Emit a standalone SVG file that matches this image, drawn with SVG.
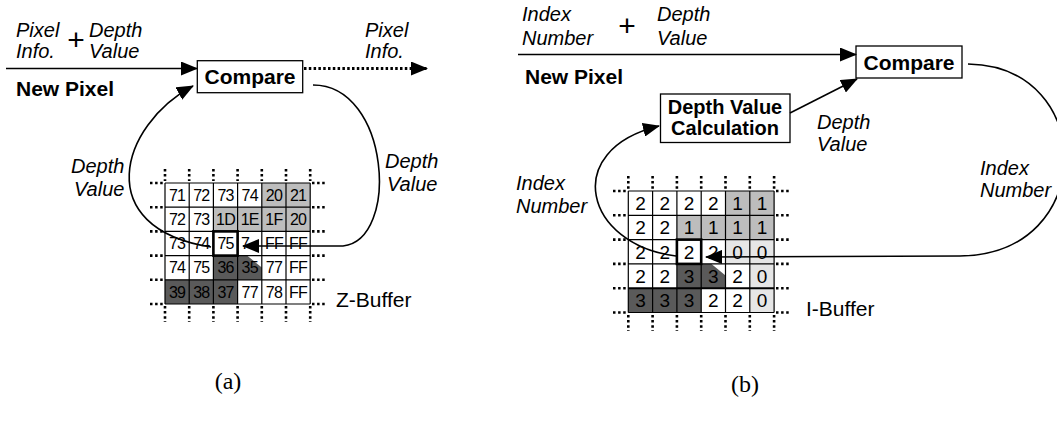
<svg xmlns="http://www.w3.org/2000/svg" width="1057" height="422" viewBox="0 0 1057 422">
<defs>
<marker id="ah" viewBox="0 0 17 14" refX="16" refY="7" markerWidth="17" markerHeight="14" markerUnits="userSpaceOnUse" orient="auto"><path d="M0,0 L17,7 L0,14 z" fill="#000"/></marker>
<style>
text{font-family:"Liberation Sans",Arial,sans-serif;fill:#000}
.it{font-style:italic;font-size:20px}
.bd{font-weight:bold;font-size:21px}
.bd2{font-weight:bold;font-size:20px}
.lb{font-size:21px}
.cap{font-family:"Liberation Serif","Times New Roman",serif;font-size:24px}
.plus{font-size:30px}
.box{fill:#fff;stroke:#000;stroke-width:1.3}
.ln{fill:none;stroke:#000;stroke-width:1.6}
.dl{fill:none;stroke:#000;stroke-width:3;stroke-dasharray:2.5 2.3}
.grid{fill:none;stroke:#000;stroke-width:1.2}
.dot{fill:none;stroke:#000;stroke-width:2.6;stroke-dasharray:2.5 2.6}
.ca{font-size:16px;text-anchor:middle;letter-spacing:-0.8px}
.cb{font-size:19px;text-anchor:middle}
.lt{fill:#bdbdbd}
.vl{fill:#e6e6e6}
.dk{fill:#5a5a5a}
.bold{fill:none;stroke:#000;stroke-width:2.6}
</style>
</defs>
<rect width="1057" height="422" fill="#fff"/>

<!-- ===== Panel (a) ===== -->
<g id="a-labels">
<text class="it" x="16" y="37">Pixel</text>
<text class="it" x="16" y="58">Info.</text>
<text class="plus" x="76" y="50" text-anchor="middle">+</text>
<text class="it" x="89" y="37">Depth</text>
<text class="it" x="89" y="58">Value</text>
<text class="bd" x="16" y="96">New Pixel</text>
<text class="it" x="365" y="37">Pixel</text>
<text class="it" x="365" y="58">Info.</text>
<text class="it" x="71" y="173">Depth</text>
<text class="it" x="74" y="196">Value</text>
<text class="it" x="385" y="168">Depth</text>
<text class="it" x="387" y="191">Value</text>
<text class="lb" x="336" y="307">Z-Buffer</text>
<text class="cap" x="228" y="389" text-anchor="middle">(a)</text>
</g>

<g id="a-compare">
<rect class="box" x="197.3" y="60.7" width="105.4" height="32"/>
<text class="bd" x="250" y="84" text-anchor="middle">Compare</text>
</g>

<g id="a-zbuffer">
<rect class="lt" x="261.8" y="183" width="48.4" height="24.2"/>
<rect class="lt" x="213.4" y="207.2" width="96.8" height="24.2"/>
<polygon class="dk" points="213.4,255.6 247,255.6 261.8,267.5 261.8,279.8 237.6,279.8 237.6,304 165,304 165,279.8 213.4,279.8"/>
<path class="grid" d="M165,183 H310.2 M165,207.2 H310.2 M165,231.4 H310.2 M165,255.6 H310.2 M165,279.8 H310.2 M165,304 H310.2 M165,183 V304 M189.2,183 V304 M213.4,183 V304 M237.6,183 V304 M261.8,183 V304 M286,183 V304 M310.2,183 V304"/>
<path class="dot" d="M165,169 V181 M189.2,169 V181 M213.4,169 V181 M237.6,169 V181 M261.8,169 V181 M286,169 V181 M310.2,169 V181 M165,306 V322 M189.2,306 V322 M213.4,306 V322 M237.6,306 V322 M261.8,306 V322 M286,306 V322 M310.2,306 V322 M150,183 H163 M150,207.2 H163 M150,231.4 H163 M150,255.6 H163 M150,279.8 H163 M150,304 H163 M312,183 H327 M312,207.2 H327 M312,231.4 H327 M312,255.6 H327 M312,279.8 H327 M312,304 H327"/>
<rect class="bold" x="213.4" y="231.4" width="24.2" height="24.2"/>
<text class="ca" x="177.1" y="200.8">71</text><text class="ca" x="201.3" y="200.8">72</text><text class="ca" x="225.5" y="200.8">73</text><text class="ca" x="249.7" y="200.8">74</text><text class="ca" x="273.9" y="200.8">20</text><text class="ca" x="298.1" y="200.8">21</text>
<text class="ca" x="177.1" y="225">72</text><text class="ca" x="201.3" y="225">73</text><text class="ca" x="225.5" y="225">1D</text><text class="ca" x="249.7" y="225">1E</text><text class="ca" x="273.9" y="225">1F</text><text class="ca" x="298.1" y="225">20</text>
<text class="ca" x="177.1" y="249.2">73</text><text class="ca" x="201.3" y="249.2">74</text><text class="ca" x="225.5" y="249.2">75</text><text class="ca" x="245" y="249.2">7</text><text class="ca" x="273.9" y="249.2">FF</text><text class="ca" x="298.1" y="249.2">FF</text>
<text class="ca" x="177.1" y="273.4">74</text><text class="ca" x="201.3" y="273.4">75</text><text class="ca" x="225.5" y="273.4">36</text><text class="ca" x="249.7" y="273.4">35</text><text class="ca" x="273.9" y="273.4">77</text><text class="ca" x="298.1" y="273.4">FF</text>
<text class="ca" x="177.1" y="297.6">39</text><text class="ca" x="201.3" y="297.6">38</text><text class="ca" x="225.5" y="297.6">37</text><text class="ca" x="249.7" y="297.6">77</text><text class="ca" x="273.9" y="297.6">78</text><text class="ca" x="298.1" y="297.6">FF</text>
</g>

<!-- ===== Panel (b) ===== -->
<g id="b-labels">
<text class="it" x="522" y="21">Index</text>
<text class="it" x="522" y="45">Number</text>
<text class="plus" x="627" y="36" text-anchor="middle">+</text>
<text class="it" x="657" y="21">Depth</text>
<text class="it" x="657" y="45">Value</text>
<text class="bd" x="525" y="84">New Pixel</text>
<text class="it" x="817" y="129">Depth</text>
<text class="it" x="817" y="151">Value</text>
<text class="it" x="516" y="190">Index</text>
<text class="it" x="516" y="213">Number</text>
<text class="it" x="980" y="175">Index</text>
<text class="it" x="980" y="197">Number</text>
<text class="lb" x="806" y="316">I-Buffer</text>
<text class="cap" x="745" y="392" text-anchor="middle">(b)</text>
</g>

<g id="b-compare">
<rect class="box" x="856" y="46" width="106" height="32"/>
<text class="bd" x="909" y="70" text-anchor="middle">Compare</text>
</g>

<g id="b-depthcalc">
<rect class="box" x="660.5" y="94" width="129.5" height="48.5"/>
<text class="bd2" x="725" y="114" text-anchor="middle">Depth Value</text>
<text class="bd2" x="725" y="135" text-anchor="middle">Calculation</text>
</g>

<g id="b-ibuffer">
<rect class="lt" x="725.5" y="191" width="48.6" height="24.3"/>
<rect class="lt" x="676.9" y="215.3" width="97.2" height="24.3"/>
<rect class="vl" x="725.5" y="239.6" width="48.6" height="24.3"/>
<rect class="vl" x="749.8" y="263.9" width="24.3" height="48.6"/>
<polygon class="dk" points="676.9,263.9 711.5,263.9 725.5,275.5 725.5,288.2 701.2,288.2 701.2,312.5 628.3,312.5 628.3,288.2 676.9,288.2"/>
<path class="grid" d="M628.3,191 H774.1 M628.3,215.3 H774.1 M628.3,239.6 H774.1 M628.3,263.9 H774.1 M628.3,312.5 H774.1 M628.3,191 V312.5 M652.6,191 V312.5 M676.9,191 V312.5 M701.2,191 V312.5 M725.5,191 V312.5 M749.8,191 V312.5 M774.1,191 V312.5"/>
<path fill="none" stroke="#000" stroke-width="2" d="M628.3,288.2 H774.1"/>
<path class="dot" d="M628.3,176 V189 M652.6,176 V189 M676.9,176 V189 M701.2,176 V189 M725.5,176 V189 M749.8,176 V189 M774.1,176 V189 M628.3,315 V331 M652.6,315 V331 M676.9,315 V331 M701.2,315 V331 M725.5,315 V331 M749.8,315 V331 M774.1,315 V331 M613,191 H626 M613,215.3 H626 M613,239.6 H626 M613,263.9 H626 M613,288.2 H626 M613,312.5 H626 M776,191 H790 M776,215.3 H790 M776,239.6 H790 M776,263.9 H790 M776,288.2 H790 M776,312.5 H790"/>
<rect class="bold" x="676.9" y="239.6" width="24.3" height="24.3"/>
<text class="cb" x="640.45" y="210">2</text><text class="cb" x="664.75" y="210">2</text><text class="cb" x="689.05" y="210">2</text><text class="cb" x="713.35" y="210">2</text><text class="cb" x="737.65" y="210">1</text><text class="cb" x="761.95" y="210">1</text>
<text class="cb" x="640.45" y="234.3">2</text><text class="cb" x="664.75" y="234.3">2</text><text class="cb" x="689.05" y="234.3">1</text><text class="cb" x="713.35" y="234.3">1</text><text class="cb" x="737.65" y="234.3">1</text><text class="cb" x="761.95" y="234.3">1</text>
<text class="cb" x="640.45" y="258.6">2</text><text class="cb" x="664.75" y="258.6">2</text><text class="cb" x="689.05" y="258.6">2</text><text class="cb" x="713.35" y="258.6">2</text><text class="cb" x="737.65" y="258.6">0</text><text class="cb" x="761.95" y="258.6">0</text>
<text class="cb" x="640.45" y="282.9">2</text><text class="cb" x="664.75" y="282.9">2</text><text class="cb" x="689.05" y="282.9">3</text><text class="cb" x="713.35" y="282.9">3</text><text class="cb" x="737.65" y="282.9">2</text><text class="cb" x="761.95" y="282.9">0</text>
<text class="cb" x="640.45" y="307.2">3</text><text class="cb" x="664.75" y="307.2">3</text><text class="cb" x="689.05" y="307.2">3</text><text class="cb" x="713.35" y="307.2">2</text><text class="cb" x="737.65" y="307.2">2</text><text class="cb" x="761.95" y="307.2">0</text>
</g>

<g id="connectors">
<path class="ln" d="M6,68.5 L197,68.5" marker-end="url(#ah)"/>
<path class="dl" d="M304,68.5 L427,68.5" marker-end="url(#ah)"/>
<path class="ln" d="M211,247 C90,228 120,125 193,86" marker-end="url(#ah)"/>
<path class="ln" d="M313,85 C390,85 400,240 343,246 L243,246" marker-end="url(#ah)"/>
<path class="ln" d="M518,54.5 L856,54.5" marker-end="url(#ah)"/>
<path class="ln" d="M790,113 L857,79" marker-end="url(#ah)"/>
<path class="ln" d="M676,256 C585,245 560,150 659,126" marker-end="url(#ah)"/>
<path class="ln" d="M968,64 C1098,66 1098,255 960,256 L706,257" marker-end="url(#ah)"/>
</g>
</svg>
